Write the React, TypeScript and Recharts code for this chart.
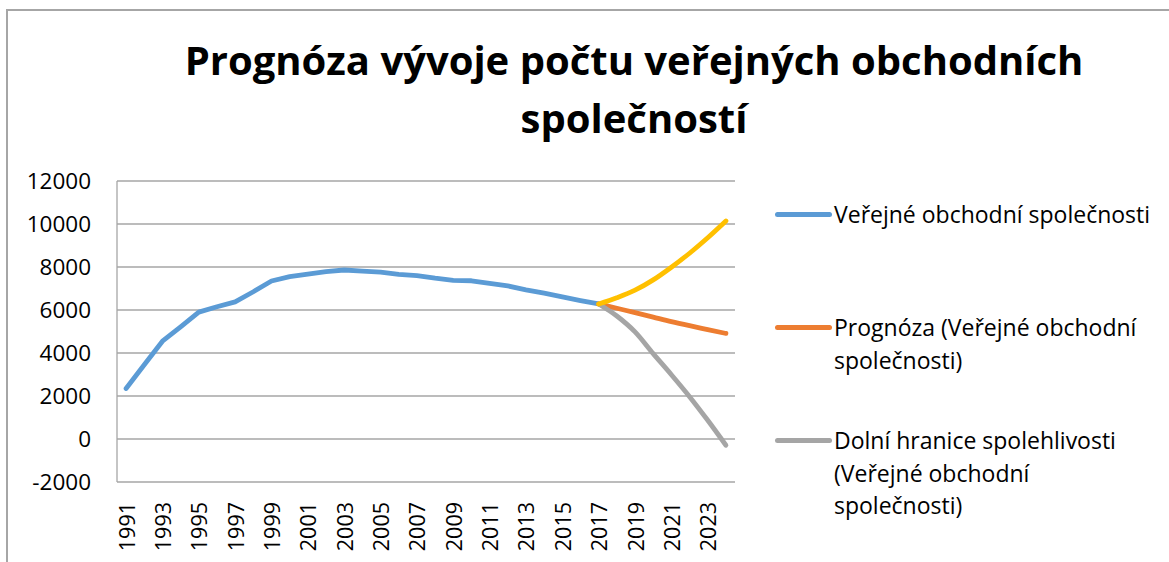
import React from 'react';
import { LineChart, Line, XAxis, YAxis, CartesianGrid, Legend } from 'recharts';

const years = [
  '1991', '1992', '1993', '1994', '1995', '1996', '1997', '1998', '1999', '2000',
  '2001', '2002', '2003', '2004', '2005', '2006', '2007', '2008', '2009', '2010',
  '2011', '2012', '2013', '2014', '2015', '2016', '2017', '2018', '2019', '2020',
  '2021', '2022', '2023', '2024',
];

// 1991 - 2017
const actualValues = [
  2350, 3450, 4550, 5220, 5900, 6150, 6380, 6850, 7350, 7550,
  7670, 7780, 7860, 7810, 7760, 7660, 7600, 7480, 7380, 7360,
  7240, 7120, 6940, 6780, 6610, 6440, 6280,
];

// 2017 - 2024
const forecastStartYear = '2017';
const forecastValues = [6280, 6080, 5880, 5670, 5460, 5270, 5090, 4910];
const upperValues = [6280, 6570, 6920, 7400, 7990, 8640, 9360, 10140];
const lowerValues = [6280, 5720, 4980, 3970, 2990, 1970, 870, -290];

const yTicks = [-2000, 0, 2000, 4000, 6000, 8000, 10000, 12000];
const xTickLabels = [
  '1991', '1993', '1995', '1997', '1999', '2001', '2003', '2005', '2007',
  '2009', '2011', '2013', '2015', '2017', '2019', '2021', '2023',
];

const titleLines = ['Prognóza vývoje počtu veřejných obchodních', 'společností'];

const nameActual = 'Veřejné obchodní společnosti';
const nameForecast = 'Prognóza (Veřejné obchodní společnosti)';
const nameLower = 'Dolní hranice spolehlivosti (Veřejné obchodní společnosti)';
const nameUpper = 'Horní hranice spolehlivosti (Veřejné obchodní společnosti)';

const COLORS = {
  actual: '#5b9bd5',
  forecast: '#ed7d31',
  lower: '#a5a5a5',
  upper: '#ffc000',
};

const legendEntries = [
  { name: nameActual, color: COLORS.actual },
  { name: nameForecast, color: COLORS.forecast },
  { name: nameLower, color: COLORS.lower },
];

const forecastStart = years.indexOf(forecastStartYear);

const data = years.map((year, i) => ({
  year,
  actual: i < actualValues.length ? actualValues[i] : null,
  forecast: i >= forecastStart ? forecastValues[i - forecastStart] : null,
  lower: i >= forecastStart ? lowerValues[i - forecastStart] : null,
  upper: i >= forecastStart ? upperValues[i - forecastStart] : null,
}));

const FONT = '"Open Sans", sans-serif';
const GRID = '#a6a6a6';

const XTick = (props: any) => {
  const { x, payload } = props;
  return (
    <g transform={`translate(${x},502)`}>
      <text
        transform="rotate(-90)"
        textAnchor="end"
        dominantBaseline="central"
        fontSize={21.5}
        fontFamily={FONT}
        fill="#000"
      >
        {payload.value}
      </text>
    </g>
  );
};

const renderLegend = () => (
  <div style={{ position: 'relative', width: 392, height: 340, fontFamily: FONT, fontSize: 23, color: '#000' }}>
    {legendEntries.map((entry, i) => (
      <div key={entry.name} style={{ position: 'absolute', left: 0, top: i * 113, display: 'flex', alignItems: 'flex-start' }}>
        <div
          style={{
            width: 57,
            height: 4.5,
            background: entry.color,
            borderRadius: 2.5,
            marginTop: 14,
            marginRight: 2,
            flex: 'none',
          }}
        />
        <div style={{ width: 328, lineHeight: '32.5px', whiteSpace: 'normal' }}>{entry.name}</div>
      </div>
    ))}
  </div>
);

const lineCommon = {
  strokeWidth: 4.8,
  strokeLinecap: 'round' as const,
  strokeLinejoin: 'round' as const,
  dot: false,
  activeDot: false,
  isAnimationActive: false,
};

export default function App() {
  return (
    <div style={{ position: 'absolute', left: 0, top: 0, width: 1169, height: 562, background: '#fff', overflow: 'hidden' }}>
      <div
        style={{
          position: 'absolute',
          left: 6,
          top: 9,
          width: 1163,
          height: 553,
          borderLeft: `2px solid ${GRID}`,
          borderTop: `2px solid ${GRID}`,
          boxSizing: 'border-box',
        }}
      />
      <svg width={1169} height={562} style={{ position: 'absolute', left: 0, top: 0, pointerEvents: 'none' }}>
        {titleLines.map((line, i) => (
          <text
            key={line}
            x={634}
            y={75 + i * 58}
            textAnchor="middle"
            fontFamily={FONT}
            fontWeight={700}
            fontSize={40}
            fill="#000"
          >
            {line}
          </text>
        ))}
      </svg>
      <div style={{ position: 'absolute', left: 0, top: 0 }}>
        <LineChart width={1169} height={562} data={data} margin={{ top: 181, right: 434, bottom: 0, left: 0 }}>
          <CartesianGrid vertical={false} stroke={GRID} strokeWidth={1.3} />
          <XAxis
            dataKey="year"
            ticks={xTickLabels}
            interval={0}
            tick={<XTick />}
            tickLine={false}
            axisLine={false}
            height={80}
            padding={{ left: 9.09, right: 9.09 }}
          />
          <YAxis
            domain={[-2000, 12000]}
            ticks={yTicks}
            interval={0}
            width={117}
            tickLine={false}
            tickSize={0}
            tickMargin={26}
            axisLine={{ stroke: GRID, strokeWidth: 1.3 }}
            tick={{ fontSize: 22.5, fontFamily: FONT, fill: '#000' }}
          />
          <Legend
            layout="vertical"
            align="center"
            verticalAlign="middle"
            content={renderLegend}
            wrapperStyle={{ left: 775, top: 198, width: 392, height: 340 }}
          />
          <Line type="linear" dataKey="actual" name={nameActual} stroke={COLORS.actual} {...lineCommon} />
          <Line type="monotone" dataKey="forecast" name={nameForecast} stroke={COLORS.forecast} {...lineCommon} />
          <Line type="monotone" dataKey="lower" name={nameLower} stroke={COLORS.lower} {...lineCommon} />
          <Line
            type="monotone"
            dataKey="upper"
            name={nameUpper}
            legendType="none"
            stroke={COLORS.upper}
            {...lineCommon}
          />
        </LineChart>
      </div>
    </div>
  );
}
